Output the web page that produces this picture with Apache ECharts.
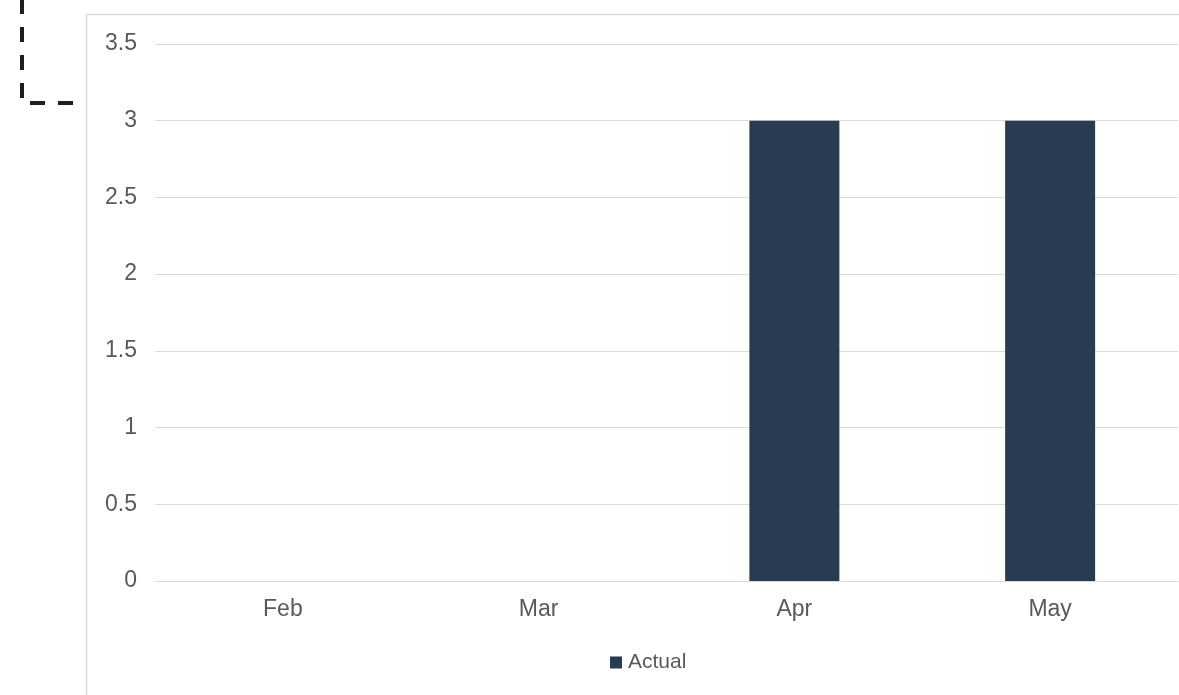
<!DOCTYPE html>
<html>
<head>
<meta charset="utf-8">
<script src="https://cdn.jsdelivr.net/npm/echarts@6/dist/echarts.min.js"></script>
<style>
html,body{margin:0;padding:0;background:#fff;}
#chart{width:1179px;height:695px;}
</style>
</head>
<body>
<div id="chart"></div>
<script>
const categories = ['Feb', 'Mar', 'Apr', 'May'];
const actualValues = [0, 0, 3, 3];
const yTicks = [0, 0.5, 1, 1.5, 2, 2.5, 3, 3.5];

const chart = echarts.init(document.getElementById('chart'), null, {renderer: 'canvas'});
chart.setOption({
  animation: false,
  backgroundColor: '#ffffff',
  textStyle: {fontFamily: 'Liberation Sans, Arial, sans-serif'},
  graphic: [
    {
      type: 'polyline',
      shape: {points: [[86.5, 1000], [86.5, 14.5], [1300, 14.5]]},
      style: {stroke: '#d9d9d9', lineWidth: 1.5, fill: null},
      silent: true
    },
    {
      type: 'polyline',
      shape: {points: [[22, -1], [22, 103], [73, 103]]},
      style: {stroke: '#1f1f1f', lineWidth: 4, fill: null, lineDash: [15, 13]},
      silent: true
    }
  ],
  grid: {left: 155, right: 1, top: 44, bottom: 114, containLabel: false},
  legend: {
    data: ['Actual'],
    left: 605,
    top: 647,
    icon: 'rect',
    itemWidth: 12,
    itemHeight: 12,
    itemGap: 10,
    textStyle: {color: '#595959', fontSize: 21, padding: [0, 0, 0, 1]}
  },
  xAxis: {
    type: 'category',
    data: categories,
    axisLine: {show: true, lineStyle: {color: '#d9d9d9', width: 1}},
    axisTick: {show: false},
    axisLabel: {color: '#595959', fontSize: 23, margin: 17}
  },
  yAxis: {
    type: 'value',
    min: yTicks[0],
    max: yTicks[yTicks.length - 1],
    interval: 0.5,
    axisLine: {show: false},
    axisTick: {show: false},
    axisLabel: {color: '#595959', fontSize: 23, margin: 18, padding: [4, 0, 0, 0]},
    splitLine: {lineStyle: {color: '#d9d9d9', width: 1}}
  },
  series: [{
    name: 'Actual',
    type: 'bar',
    data: actualValues,
    barWidth: 90,
    itemStyle: {color: '#283b51'}
  }]
});
</script>
</body>
</html>
